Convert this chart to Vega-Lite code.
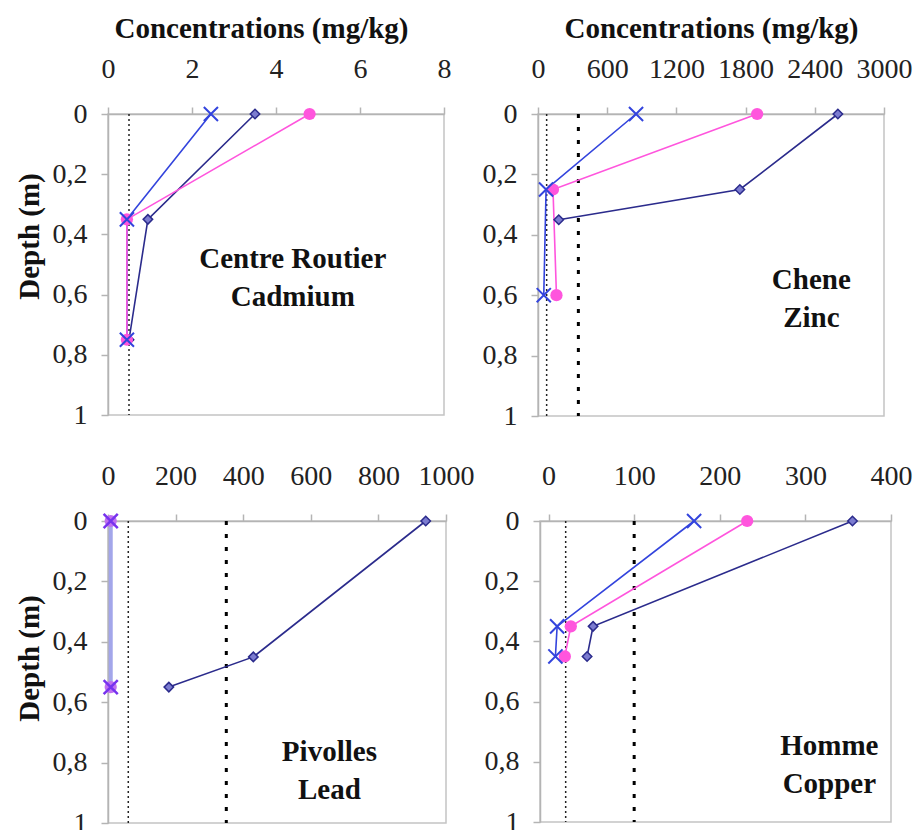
{
  "$schema": "https://vega.github.io/schema/vega-lite/v6.json",
  "background": "white",
  "padding": {"left": 14, "top": 13, "right": 5, "bottom": 5},
  "datasets": {
    "obs": [
      {"panel": "Cd", "series": "A", "depth": 0, "conc": 3.5},
      {"panel": "Cd", "series": "A", "depth": 0.35, "conc": 0.95},
      {"panel": "Cd", "series": "A", "depth": 0.75, "conc": 0.5},
      {"panel": "Cd", "series": "B", "depth": 0, "conc": 2.45},
      {"panel": "Cd", "series": "B", "depth": 0.35, "conc": 0.45},
      {"panel": "Cd", "series": "B", "depth": 0.75, "conc": 0.45},
      {"panel": "Cd", "series": "C", "depth": 0, "conc": 4.8},
      {"panel": "Cd", "series": "C", "depth": 0.35, "conc": 0.45},
      {"panel": "Cd", "series": "C", "depth": 0.75, "conc": 0.45},
      {"panel": "Zn", "series": "A", "depth": 0, "conc": 2600},
      {"panel": "Zn", "series": "A", "depth": 0.25, "conc": 1750},
      {"panel": "Zn", "series": "A", "depth": 0.35, "conc": 180},
      {"panel": "Zn", "series": "B", "depth": 0, "conc": 850},
      {"panel": "Zn", "series": "B", "depth": 0.25, "conc": 70},
      {"panel": "Zn", "series": "B", "depth": 0.6, "conc": 50},
      {"panel": "Zn", "series": "C", "depth": 0, "conc": 1900},
      {"panel": "Zn", "series": "C", "depth": 0.25, "conc": 130},
      {"panel": "Zn", "series": "C", "depth": 0.6, "conc": 160},
      {"panel": "Pb", "series": "A", "depth": 0, "conc": 940},
      {"panel": "Pb", "series": "A", "depth": 0.45, "conc": 430},
      {"panel": "Pb", "series": "A", "depth": 0.55, "conc": 180},
      {"panel": "Pb", "series": "B", "depth": 0, "conc": 8},
      {"panel": "Pb", "series": "B", "depth": 0.55, "conc": 8},
      {"panel": "Pb", "series": "C", "depth": 0, "conc": 8},
      {"panel": "Pb", "series": "C", "depth": 0.55, "conc": 8},
      {"panel": "Cu", "series": "A", "depth": 0, "conc": 355},
      {"panel": "Cu", "series": "A", "depth": 0.35, "conc": 52},
      {"panel": "Cu", "series": "A", "depth": 0.45, "conc": 45},
      {"panel": "Cu", "series": "B", "depth": 0, "conc": 170},
      {"panel": "Cu", "series": "B", "depth": 0.35, "conc": 10},
      {"panel": "Cu", "series": "B", "depth": 0.45, "conc": 8},
      {"panel": "Cu", "series": "C", "depth": 0, "conc": 232},
      {"panel": "Cu", "series": "C", "depth": 0.35, "conc": 26},
      {"panel": "Cu", "series": "C", "depth": 0.45, "conc": 19}
    ],
    "limits": [
      {"panel": "Cd", "level": "low", "conc": 0.5},
      {"panel": "Zn", "level": "low", "conc": 75},
      {"panel": "Zn", "level": "high", "conc": 350},
      {"panel": "Pb", "level": "low", "conc": 60},
      {"panel": "Pb", "level": "high", "conc": 350},
      {"panel": "Cu", "level": "low", "conc": 20},
      {"panel": "Cu", "level": "high", "conc": 100}
    ],
    "notes": [
      {"panel": "Cd", "label": ["Centre Routier", "Cadmium"]},
      {"panel": "Zn", "label": ["Chene", "Zinc"]},
      {"panel": "Pb", "label": ["Pivolles", "Lead"]},
      {"panel": "Cu", "label": ["Homme", "Copper"]}
    ]
  },
  "spacing": 30,
  "resolve": {"scale": {"color": "independent", "strokeWidth": "independent"}},
  "vconcat": [
    {
      "spacing": 94,
      "bounds": "flush",
      "resolve": {"scale": {"color": "independent", "strokeWidth": "independent"}},
      "hconcat": [
        {
          "width": 336, "height": 301,
          "layer": [
            {"data": {"name": "limits"}, "transform": [{"filter": "datum.panel == 'Cd' && datum.level == 'low'"}],
             "mark": {"type": "rule", "color": "#222", "strokeWidth": 1.5, "strokeDash": [2, 3]},
             "encoding": {"x": {"field": "conc", "type": "quantitative", "title": "Concentrations (mg/kg)"}}},
            {"data": {"name": "obs"}, "transform": [{"filter": "datum.panel == 'Cd'"}],
             "mark": {"type": "line", "strokeWidth": 1.6},
             "encoding": {
               "x": {"field": "conc", "type": "quantitative", "title": "Concentrations (mg/kg)", "scale": {"domain": [0, 8], "nice": false, "zero": false}, "axis": {"orient": "top", "values": [0, 2, 4, 6, 8], "format": "d", "titleX": 153}},
               "y": {"field": "depth", "type": "quantitative", "title": "Depth (m)", "scale": {"domain": [0, 1], "reverse": true, "nice": false, "zero": false}, "axis": {"values": [0, 0.2, 0.4, 0.6, 0.8, 1], "labelExpr": "replace(format(datum.value, '.1~f'), '.', ',')", "titleY": 122}},
               "color": {"field": "series", "type": "nominal", "scale": {"domain": ["A", "B", "C"], "range": ["#2b2b8c", "#3344dd", "#ff55dd"]}, "legend": null},
               "order": {"field": "depth", "type": "quantitative"}
             }},
            {"data": {"name": "obs"}, "transform": [{"filter": "datum.panel == 'Cd' && datum.series == 'A'"}],
             "mark": {"type": "point", "shape": "diamond", "filled": true, "fill": "#7c7cd0", "stroke": "#2b2b8c", "strokeWidth": 1.5, "size": 90, "opacity": 1},
             "encoding": {"x": {"field": "conc", "type": "quantitative", "title": "Concentrations (mg/kg)"}, "y": {"field": "depth", "type": "quantitative", "title": "Depth (m)"}}},
            {"data": {"name": "obs"}, "transform": [{"filter": "datum.panel == 'Cd' && datum.series == 'C'"}],
             "mark": {"type": "point", "shape": "circle", "filled": true, "color": "#ff55dd", "size": 150, "opacity": 1},
             "encoding": {"x": {"field": "conc", "type": "quantitative", "title": "Concentrations (mg/kg)"}, "y": {"field": "depth", "type": "quantitative", "title": "Depth (m)"}}},
            {"data": {"name": "obs"}, "transform": [{"filter": "datum.panel == 'Cd' && datum.series == 'B'"}],
             "mark": {"type": "point", "shape": "M-1,-1L1,1M-1,1L1,-1", "filled": false, "stroke": "#3344dd", "strokeWidth": 2, "size": 200, "opacity": 1},
             "encoding": {"x": {"field": "conc", "type": "quantitative", "title": "Concentrations (mg/kg)"}, "y": {"field": "depth", "type": "quantitative", "title": "Depth (m)"}}},
            {"data": {"name": "notes"}, "transform": [{"filter": "datum.panel == 'Cd'"}],
             "mark": {"type": "text", "font": "Liberation Serif", "fontSize": 29, "fontWeight": "bold", "align": "center", "baseline": "alphabetic", "lineHeight": 38, "color": "#111"},
             "encoding": {"x": {"datum": 4.4, "type": "quantitative", "title": "Concentrations (mg/kg)"}, "y": {"datum": 0.51, "type": "quantitative", "title": "Depth (m)"}, "text": {"field": "label"}}}
          ]
        },
        {
          "width": 346, "height": 302,
          "layer": [
            {"data": {"name": "limits"}, "transform": [{"filter": "datum.panel == 'Zn' && datum.level == 'low'"}],
             "mark": {"type": "rule", "color": "#222", "strokeWidth": 1.5, "strokeDash": [2, 3]},
             "encoding": {"x": {"field": "conc", "type": "quantitative", "title": "Concentrations (mg/kg)"}}},
            {"data": {"name": "limits"}, "transform": [{"filter": "datum.panel == 'Zn' && datum.level == 'high'"}],
             "mark": {"type": "rule", "color": "#000", "strokeWidth": 3, "strokeDash": [4, 9]},
             "encoding": {"x": {"field": "conc", "type": "quantitative", "title": "Concentrations (mg/kg)"}}},
            {"data": {"name": "obs"}, "transform": [{"filter": "datum.panel == 'Zn'"}],
             "mark": {"type": "line", "strokeWidth": 1.6},
             "encoding": {
               "x": {"field": "conc", "type": "quantitative", "title": "Concentrations (mg/kg)", "scale": {"domain": [0, 3000], "nice": false, "zero": false}, "axis": {"orient": "top", "values": [0, 600, 1200, 1800, 2400, 3000], "format": "d"}},
               "y": {"field": "depth", "type": "quantitative", "title": null, "scale": {"domain": [0, 1], "reverse": true, "nice": false, "zero": false}, "axis": {"values": [0, 0.2, 0.4, 0.6, 0.8, 1], "labelExpr": "replace(format(datum.value, '.1~f'), '.', ',')"}},
               "color": {"field": "series", "type": "nominal", "scale": {"domain": ["A", "B", "C"], "range": ["#2b2b8c", "#3344dd", "#ff55dd"]}, "legend": null},
               "order": {"field": "depth", "type": "quantitative"}
             }},
            {"data": {"name": "obs"}, "transform": [{"filter": "datum.panel == 'Zn' && datum.series == 'A'"}],
             "mark": {"type": "point", "shape": "diamond", "filled": true, "fill": "#7c7cd0", "stroke": "#2b2b8c", "strokeWidth": 1.5, "size": 90, "opacity": 1},
             "encoding": {"x": {"field": "conc", "type": "quantitative", "title": "Concentrations (mg/kg)"}, "y": {"field": "depth", "type": "quantitative", "title": null}}},
            {"data": {"name": "obs"}, "transform": [{"filter": "datum.panel == 'Zn' && datum.series == 'C'"}],
             "mark": {"type": "point", "shape": "circle", "filled": true, "color": "#ff55dd", "size": 150, "opacity": 1},
             "encoding": {"x": {"field": "conc", "type": "quantitative", "title": "Concentrations (mg/kg)"}, "y": {"field": "depth", "type": "quantitative", "title": null}}},
            {"data": {"name": "obs"}, "transform": [{"filter": "datum.panel == 'Zn' && datum.series == 'B'"}],
             "mark": {"type": "point", "shape": "M-1,-1L1,1M-1,1L1,-1", "filled": false, "stroke": "#3344dd", "strokeWidth": 2, "size": 200, "opacity": 1},
             "encoding": {"x": {"field": "conc", "type": "quantitative", "title": "Concentrations (mg/kg)"}, "y": {"field": "depth", "type": "quantitative", "title": null}}},
            {"data": {"name": "notes"}, "transform": [{"filter": "datum.panel == 'Zn'"}],
             "mark": {"type": "text", "font": "Liberation Serif", "fontSize": 29, "fontWeight": "bold", "align": "center", "baseline": "alphabetic", "lineHeight": 38, "color": "#111"},
             "encoding": {"x": {"datum": 2370, "type": "quantitative", "title": "Concentrations (mg/kg)"}, "y": {"datum": 0.58, "type": "quantitative", "title": null}, "text": {"field": "label"}}}
          ]
        }
      ]
    },
    {
      "spacing": 94,
      "bounds": "flush",
      "resolve": {"scale": {"color": "independent", "strokeWidth": "independent"}},
      "hconcat": [
        {
          "width": 338, "height": 302,
          "layer": [
            {"data": {"name": "limits"}, "transform": [{"filter": "datum.panel == 'Pb' && datum.level == 'low'"}],
             "mark": {"type": "rule", "color": "#222", "strokeWidth": 1.5, "strokeDash": [2, 3]},
             "encoding": {"x": {"field": "conc", "type": "quantitative", "title": null}}},
            {"data": {"name": "limits"}, "transform": [{"filter": "datum.panel == 'Pb' && datum.level == 'high'"}],
             "mark": {"type": "rule", "color": "#000", "strokeWidth": 3, "strokeDash": [4, 9]},
             "encoding": {"x": {"field": "conc", "type": "quantitative", "title": null}}},
            {"data": {"name": "obs"}, "transform": [{"filter": "datum.panel == 'Pb'"}],
             "mark": {"type": "line"},
             "encoding": {
               "x": {"field": "conc", "type": "quantitative", "title": null, "scale": {"domain": [0, 1000], "nice": false, "zero": false}, "axis": {"orient": "top", "values": [0, 200, 400, 600, 800, 1000], "format": "d"}},
               "y": {"field": "depth", "type": "quantitative", "title": "Depth (m)", "scale": {"domain": [0, 1], "reverse": true, "nice": false, "zero": false}, "axis": {"values": [0, 0.2, 0.4, 0.6, 0.8, 1], "labelExpr": "replace(format(datum.value, '.1~f'), '.', ',')", "titleY": 137}},
               "color": {"field": "series", "type": "nominal", "scale": {"domain": ["A", "B", "C"], "range": ["#2b2b8c", "#a3a6ea", "#a3a6ea"]}, "legend": null},
               "strokeWidth": {"field": "series", "type": "nominal", "scale": {"domain": ["A", "B", "C"], "range": [1.6, 4, 4]}, "legend": null},
               "order": {"field": "depth", "type": "quantitative"}
             }},
            {"data": {"name": "obs"}, "transform": [{"filter": "datum.panel == 'Pb' && datum.series == 'A'"}],
             "mark": {"type": "point", "shape": "diamond", "filled": true, "fill": "#7c7cd0", "stroke": "#2b2b8c", "strokeWidth": 1.5, "size": 90, "opacity": 1},
             "encoding": {"x": {"field": "conc", "type": "quantitative", "title": null}, "y": {"field": "depth", "type": "quantitative", "title": "Depth (m)"}}},
            {"data": {"name": "obs"}, "transform": [{"filter": "datum.panel == 'Pb' && datum.series == 'C'"}],
             "mark": {"type": "point", "shape": "circle", "filled": true, "color": "#c070f0", "size": 150, "opacity": 1},
             "encoding": {"x": {"field": "conc", "type": "quantitative", "title": null}, "y": {"field": "depth", "type": "quantitative", "title": "Depth (m)"}}},
            {"data": {"name": "obs"}, "transform": [{"filter": "datum.panel == 'Pb' && datum.series == 'B'"}],
             "mark": {"type": "point", "shape": "M-1,-1L1,1M-1,1L1,-1", "filled": false, "stroke": "#7733ee", "strokeWidth": 2.5, "size": 200, "opacity": 1},
             "encoding": {"x": {"field": "conc", "type": "quantitative", "title": null}, "y": {"field": "depth", "type": "quantitative", "title": "Depth (m)"}}},
            {"data": {"name": "notes"}, "transform": [{"filter": "datum.panel == 'Pb'"}],
             "mark": {"type": "text", "font": "Liberation Serif", "fontSize": 29, "fontWeight": "bold", "align": "center", "baseline": "alphabetic", "lineHeight": 38, "color": "#111"},
             "encoding": {"x": {"datum": 655, "type": "quantitative", "title": null}, "y": {"datum": 0.795, "type": "quantitative", "title": "Depth (m)"}, "text": {"field": "label"}}}
          ]
        },
        {
          "width": 351, "height": 301,
          "layer": [
            {"data": {"name": "limits"}, "transform": [{"filter": "datum.panel == 'Cu' && datum.level == 'low'"}],
             "mark": {"type": "rule", "color": "#222", "strokeWidth": 1.5, "strokeDash": [2, 3]},
             "encoding": {"x": {"field": "conc", "type": "quantitative", "title": null}}},
            {"data": {"name": "limits"}, "transform": [{"filter": "datum.panel == 'Cu' && datum.level == 'high'"}],
             "mark": {"type": "rule", "color": "#000", "strokeWidth": 3, "strokeDash": [4, 9]},
             "encoding": {"x": {"field": "conc", "type": "quantitative", "title": null}}},
            {"data": {"name": "obs"}, "transform": [{"filter": "datum.panel == 'Cu'"}],
             "mark": {"type": "line", "strokeWidth": 1.6},
             "encoding": {
               "x": {"field": "conc", "type": "quantitative", "title": null, "scale": {"domain": [-10, 400], "nice": false, "zero": false}, "axis": {"orient": "top", "values": [0, 100, 200, 300, 400], "format": "d"}},
               "y": {"field": "depth", "type": "quantitative", "title": null, "scale": {"domain": [0, 1], "reverse": true, "nice": false, "zero": false}, "axis": {"values": [0, 0.2, 0.4, 0.6, 0.8, 1], "labelExpr": "replace(format(datum.value, '.1~f'), '.', ',')"}},
               "color": {"field": "series", "type": "nominal", "scale": {"domain": ["A", "B", "C"], "range": ["#2b2b8c", "#3344dd", "#ff55dd"]}, "legend": null},
               "order": {"field": "depth", "type": "quantitative"}
             }},
            {"data": {"name": "obs"}, "transform": [{"filter": "datum.panel == 'Cu' && datum.series == 'A'"}],
             "mark": {"type": "point", "shape": "diamond", "filled": true, "fill": "#7c7cd0", "stroke": "#2b2b8c", "strokeWidth": 1.5, "size": 90, "opacity": 1},
             "encoding": {"x": {"field": "conc", "type": "quantitative", "title": null}, "y": {"field": "depth", "type": "quantitative", "title": null}}},
            {"data": {"name": "obs"}, "transform": [{"filter": "datum.panel == 'Cu' && datum.series == 'C'"}],
             "mark": {"type": "point", "shape": "circle", "filled": true, "color": "#ff55dd", "size": 150, "opacity": 1},
             "encoding": {"x": {"field": "conc", "type": "quantitative", "title": null}, "y": {"field": "depth", "type": "quantitative", "title": null}}},
            {"data": {"name": "obs"}, "transform": [{"filter": "datum.panel == 'Cu' && datum.series == 'B'"}],
             "mark": {"type": "point", "shape": "M-1,-1L1,1M-1,1L1,-1", "filled": false, "stroke": "#3344dd", "strokeWidth": 2, "size": 200, "opacity": 1},
             "encoding": {"x": {"field": "conc", "type": "quantitative", "title": null}, "y": {"field": "depth", "type": "quantitative", "title": null}}},
            {"data": {"name": "notes"}, "transform": [{"filter": "datum.panel == 'Cu'"}],
             "mark": {"type": "text", "font": "Liberation Serif", "fontSize": 29, "fontWeight": "bold", "align": "center", "baseline": "alphabetic", "lineHeight": 38, "color": "#111"},
             "encoding": {"x": {"datum": 328, "type": "quantitative", "title": null}, "y": {"datum": 0.777, "type": "quantitative", "title": null}, "text": {"field": "label"}}}
          ]
        }
      ]
    }
  ],
  "config": {
    "font": "Liberation Serif",
    "view": {"stroke": "#c4c4c4", "strokeWidth": 1.5},
    "axis": {
      "grid": false,
      "labelFont": "Liberation Serif",
      "labelFontSize": 28,
      "labelColor": "#222",
      "labelFlush": false,
      "labelOverlap": false,
      "titleFont": "Liberation Serif",
      "titleFontSize": 29,
      "titleFontWeight": "bold",
      "titleColor": "#111",
      "domainColor": "#b4b4b4",
      "domainWidth": 1.5,
      "tickColor": "#b4b4b4",
      "tickWidth": 1.5,
      "tickSize": 7
    },
    "axisX": {"labelPadding": 24, "titlePadding": 12},
    "axisY": {"labelPadding": 14, "titlePadding": 8}
  }
}
